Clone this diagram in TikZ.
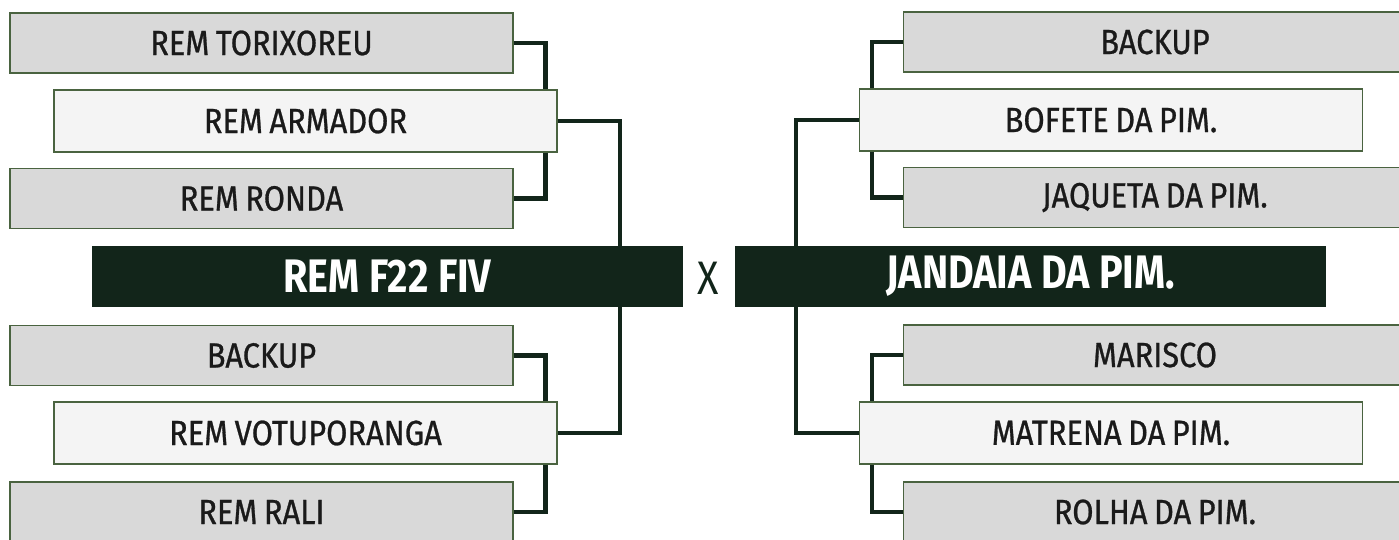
\documentclass[tikz,border=0pt]{standalone}
\usepackage{fontspec}
\usepackage{tikz}
\usetikzlibrary{positioning,calc}
\newfontfamily\boxfont{Fira Sans}[FakeStretch=0.88,FakeBold=0.8,WordSpace=0.8]
\newfontfamily\headfont{Fira Sans}[FakeStretch=0.84]
\definecolor{forest}{HTML}{12251A}
\definecolor{moss}{HTML}{4A6340}
\definecolor{ash}{HTML}{D9D9D9}
\definecolor{chalk}{HTML}{F4F4F4}
\definecolor{ink}{HTML}{1A1A1A}

\begin{document}
\begin{tikzpicture}[x=1pt,y=-1pt,
        side/.style={draw=moss,line width=1.4pt,fill=ash,minimum width=503pt,minimum height=60pt,
          text=ink,font=\boxfont\fontsize{35}{37}\selectfont,inner sep=0pt},
        mid/.style={side,fill=chalk,minimum height=62pt},
        team/.style={fill=forest,minimum width=591pt,minimum height=61pt,inner sep=0pt,
          text=white,font=\headfont\bfseries\fontsize{47}{50}\selectfont},
        e/.style={forest,line width=4.5pt}]
        \useasboundingbox (0,0) rectangle (1399,539);
        % left side
        \node[side] (tor) at (261.5,43) {REM TORIXOREU};
        \node[mid] (arm) at (305.5,121) {REM ARMADOR};
        \node[side] (ron) at (261.5,198.5) {REM RONDA};
        \node[team] (f22) at (387.5,276.5) {REM F22 FIV};
        \node[side] (bkl) at (261.5,355.5) {BACKUP};
        \node[mid] (vot) at (305.5,433) {REM VOTUPORANGA};
        \node[side] (ral) at (261.5,512) {REM RALI};
        % right side
        \node[side] (bkr) at (1155,42) {BACKUP};
        \node[mid] (bof) at (1111,120) {BOFETE DA PIM.};
        \node[side] (jaq) at (1155,197.5) {JAQUETA DA PIM.};
        \node[team] (jan) at (1030.5,276.5) {JANDAIA DA PIM.};
        \node[side] (mar) at (1155,355) {MARISCO};
        \node[mid] (mat) at (1111,433) {MATRENA DA PIM.};
        \node[side] (rol) at (1155,512) {ROLHA DA PIM.};
        \node[text=forest,font=\headfont\fontsize{47}{50}\selectfont,inner sep=0pt] (vs) at (708.5,278) {X};
        % brackets
        \foreach \t/\m/\b in {tor/arm/ron,bkl/vot/ral}{
          \draw[e] (\t.east) -| ([xshift=-12pt]\m.north east);
          \draw[e] ([xshift=-12pt]\m.south east) |- (\b.east);}
        \foreach \t/\m/\b in {bkr/bof/jaq,mar/mat/rol}{
          \draw[e] (\t.west) -| ([xshift=13pt]\m.north west);
          \draw[e] ([xshift=13pt]\m.south west) |- (\b.west);}
        \draw[e] (arm.east) -| ([xshift=-63pt]f22.north east);
        \draw[e] (vot.east) -| ([xshift=-63pt]f22.south east);
        \draw[e] (bof.west) -| ([xshift=61pt]jan.north west);
        \draw[e] (mat.west) -| ([xshift=61pt]jan.south west);
      \end{tikzpicture}
\end{document}
